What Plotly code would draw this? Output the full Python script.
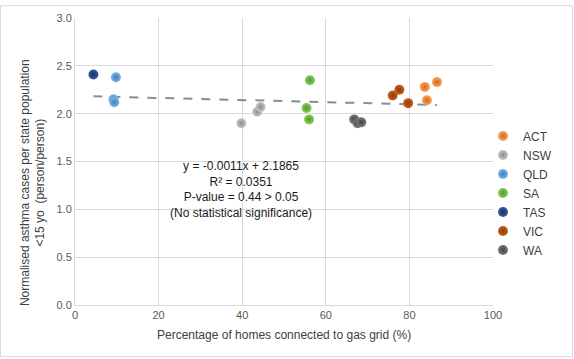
import plotly.graph_objects as go

# ---- data ----
states = ["ACT", "NSW", "QLD", "SA", "TAS", "VIC", "WA"]
gas_pct = {
    "ACT": [83.7, 86.6, 84.2],
    "NSW": [39.8, 43.6, 44.4],
    "QLD": [9.8, 9.2, 9.4],
    "SA": [56.2, 55.4, 56.0],
    "TAS": [4.4],
    "VIC": [76.0, 77.6, 79.7],
    "WA": [66.8, 67.6, 68.5],
}
asthma_rate = {
    "ACT": [2.28, 2.33, 2.14],
    "NSW": [1.90, 2.02, 2.07],
    "QLD": [2.38, 2.15, 2.12],
    "SA": [2.35, 2.06, 1.94],
    "TAS": [2.41],
    "VIC": [2.19, 2.25, 2.11],
    "WA": [1.94, 1.90, 1.91],
}
slope = -0.0011
intercept = 2.1865
x_ticks = [0, 20, 40, 60, 80, 100]
y_ticks = [0.0, 0.5, 1.0, 1.5, 2.0, 2.5, 3.0]

colors = {
    "ACT": ("#F7A565", "#D9650F"),
    "NSW": ("#C8C8C8", "#8C8C8C"),
    "QLD": ("#7DB5E6", "#3A7FC0"),
    "SA": ("#8CCB5E", "#4E9A2A"),
    "TAS": ("#3C5A9A", "#15306A"),
    "VIC": ("#C8601E", "#8E3A06"),
    "WA": ("#7A7A7A", "#454545"),
}

FONT = "Liberation Sans, Arial, sans-serif"
W, H = 574, 359
L, R, T, B = 75, 81, 13, 54
pw, ph = W - L - R, H - T - B

fig = go.Figure()

all_x = [v for s in states for v in gas_pct[s]]
x0, x1 = min(all_x), max(all_x)
fig.add_trace(go.Scatter(
    x=[x0, x1], y=[slope * x0 + intercept, slope * x1 + intercept],
    mode="lines", line=dict(color="#8C8C8C", width=2, dash="dash"),
    showlegend=False, hoverinfo="skip"))

for s in states:
    c, g = colors[s]
    fig.add_trace(go.Scatter(
        x=gas_pct[s], y=asthma_rate[s], mode="markers", name=s,
        marker=dict(size=10, color=c, line=dict(width=0),
                    gradient=dict(type="radial", color=g))))

fig.add_annotation(
    x=39.6, y=1.21, xref="x", yref="y", showarrow=False,
    xanchor="center", yanchor="middle",
    text="y = -0.0011x + 2.1865<br>R² = 0.0351<br>P-value = 0.44 > 0.05<br>(No statistical significance)",
    font=dict(family=FONT, size=12, color="#1a1a1a"), align="center")

# axis titles as annotations
fig.add_annotation(
    x=(33 - L) / pw, y=(T + ph - 181) / ph, xref="paper", yref="paper",
    xanchor="center", yanchor="middle",
    showarrow=False, textangle=-90,
    text="Normalised asthma cases per state population<br><15 yo  (person/person)",
    font=dict(family=FONT, size=12, color="#404040"), align="center")
fig.add_annotation(
    x=0.5, y=(T + ph - 336) / ph, xref="paper", yref="paper",
    xanchor="center", yanchor="middle",
    showarrow=False, text="Percentage of homes connected to gas grid (%)",
    font=dict(family=FONT, size=12, color="#404040"))

# outer border
fig.add_shape(type="rect", xref="paper", yref="paper",
              x0=(0.5 - L) / pw, x1=(W - 1.5 - L) / pw,
              y0=(T + ph - (H - 1.5)) / ph, y1=(T + ph - 0.5) / ph,
              line=dict(color="#D9D9D9", width=1), layer="below")

fig.update_layout(
    width=W, height=H,
    margin=dict(l=L, r=R, t=T, b=B),
    paper_bgcolor="white", plot_bgcolor="white",
    font=dict(family=FONT, size=11, color="#595959"),
    legend=dict(x=(483 - L) / pw, xanchor="left", y=(T + ph - 191) / ph, yanchor="middle",
                font=dict(family=FONT, size=12, color="#404040"),
                bgcolor="rgba(0,0,0,0)", itemwidth=30),
    xaxis=dict(range=[0, 100], tickvals=x_ticks, showgrid=True, gridcolor="#D9D9D9",
               showline=True, linecolor="#D9D9D9", zeroline=False, ticks="",
               tickfont=dict(family=FONT, size=11, color="#595959")),
    yaxis=dict(range=[0, 3], tickvals=y_ticks, tickformat=".1f", showgrid=True,
               gridcolor="#D9D9D9", showline=True, linecolor="#D9D9D9", zeroline=False,
               ticks="", tickfont=dict(family=FONT, size=11, color="#595959")),
)

fig.write_html("out.html", config={"displayModeBar": False},
               post_script="document.body.style.margin='0';document.body.style.padding='0';")
